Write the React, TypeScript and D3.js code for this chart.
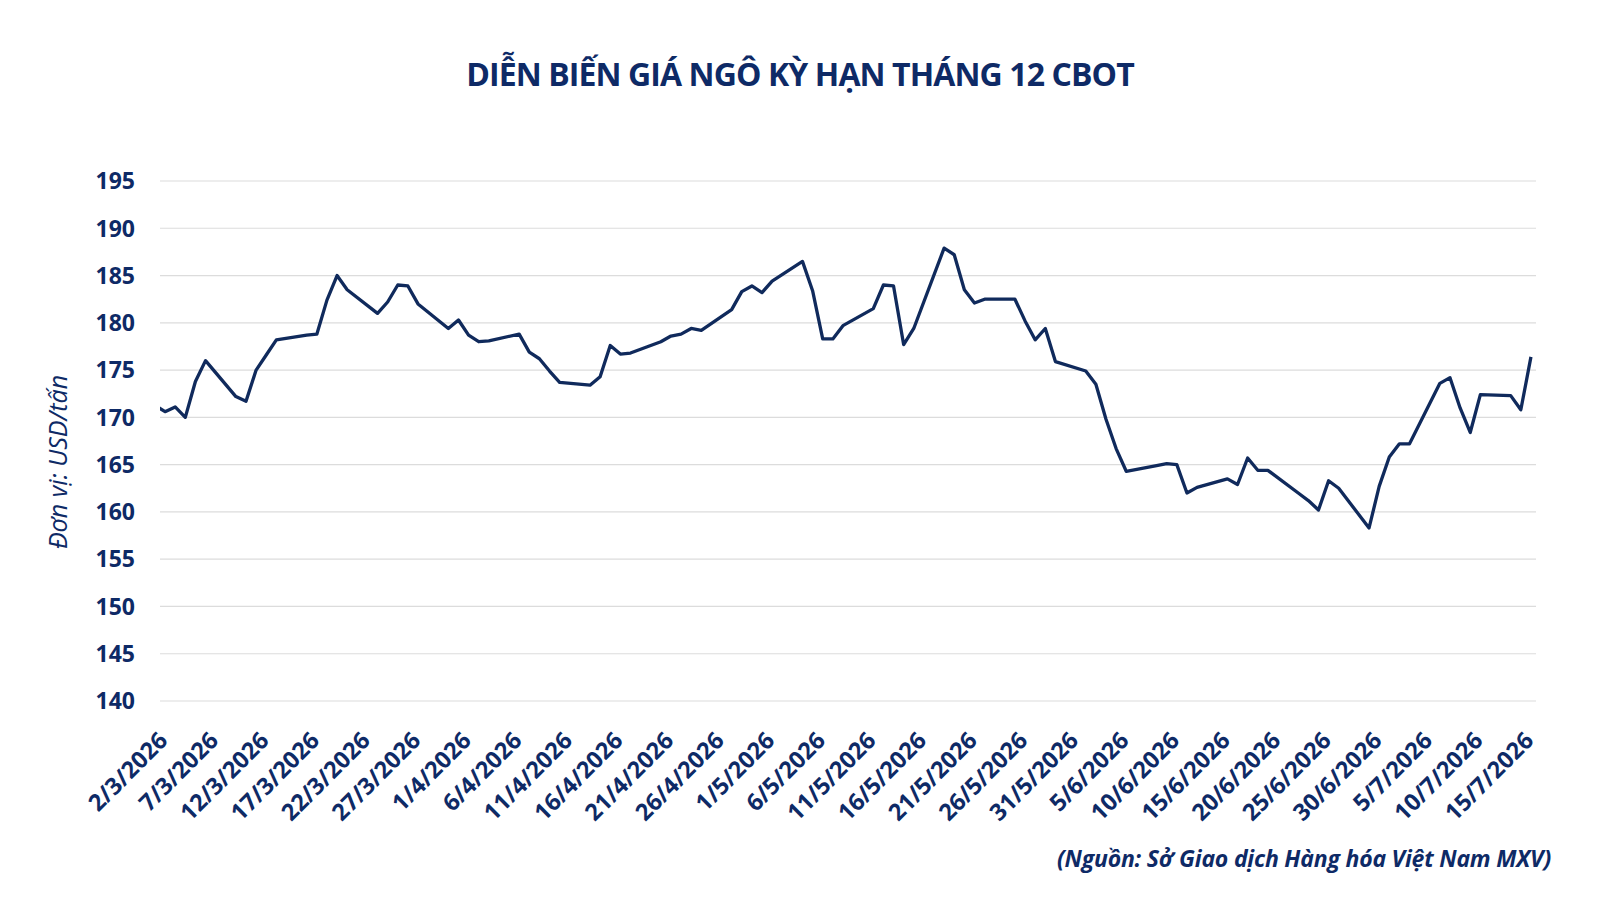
import { useEffect, useRef } from 'react'
import * as d3 from 'd3'

// trading days (first one sits just left of the axis and is clipped, as in the original)
const DATES = [
  '2026-02-27',
  '2026-03-02', '2026-03-03', '2026-03-04', '2026-03-05', '2026-03-06',
  '2026-03-09', '2026-03-10', '2026-03-11', '2026-03-12', '2026-03-13',
  '2026-03-16', '2026-03-17', '2026-03-18', '2026-03-19', '2026-03-20',
  '2026-03-23', '2026-03-24', '2026-03-25', '2026-03-26', '2026-03-27',
  '2026-03-30', '2026-03-31', '2026-04-01', '2026-04-02', '2026-04-03',
  '2026-04-06', '2026-04-07', '2026-04-08', '2026-04-09', '2026-04-10',
  '2026-04-13', '2026-04-14', '2026-04-15', '2026-04-16', '2026-04-17',
  '2026-04-20', '2026-04-21', '2026-04-22', '2026-04-23', '2026-04-24',
  '2026-04-27', '2026-04-28', '2026-04-29', '2026-04-30', '2026-05-01',
  '2026-05-04', '2026-05-05', '2026-05-06', '2026-05-07', '2026-05-08',
  '2026-05-11', '2026-05-12', '2026-05-13', '2026-05-14', '2026-05-15',
  '2026-05-18', '2026-05-19', '2026-05-20', '2026-05-21', '2026-05-22',
  '2026-05-25', '2026-05-26', '2026-05-27', '2026-05-28', '2026-05-29',
  '2026-06-01', '2026-06-02', '2026-06-03', '2026-06-04', '2026-06-05',
  '2026-06-08', '2026-06-09', '2026-06-10', '2026-06-11', '2026-06-12',
  '2026-06-15', '2026-06-16', '2026-06-17', '2026-06-18', '2026-06-19',
  '2026-06-22', '2026-06-23', '2026-06-24', '2026-06-25', '2026-06-26',
  '2026-06-29', '2026-06-30', '2026-07-01', '2026-07-02', '2026-07-03',
  '2026-07-06', '2026-07-07', '2026-07-08', '2026-07-09', '2026-07-10',
  '2026-07-13', '2026-07-14', '2026-07-15',
]

// USD/tấn
const PRICES = [
  172.6,
  170.6, 171.1, 170.0, 173.8, 176.0,
  172.2, 171.7, 175.0, 176.6, 178.2,
  178.7, 178.8, 182.4, 185.0, 183.5,
  181.0, 182.2, 184.0, 183.9, 182.0,
  179.4, 180.3, 178.7, 178.0, 178.1,
  178.8, 176.9, 176.2, 174.9, 173.7,
  173.4, 174.3, 177.6, 176.7, 176.8,
  178.0, 178.6, 178.8, 179.4, 179.2,
  181.4, 183.3, 183.9, 183.2, 184.4,
  186.5, 183.4, 178.3, 178.3, 179.7,
  181.5, 184.0, 183.9, 177.7, 179.4,
  187.9, 187.2, 183.5, 182.1, 182.5,
  182.5, 180.2, 178.2, 179.4, 175.9,
  174.9, 173.5, 169.8, 166.7, 164.3,
  164.9, 165.1, 165.0, 162.0, 162.6,
  163.5, 162.9, 165.7, 164.4, 164.4,
  162.0, 161.2, 160.2, 163.3, 162.5,
  158.3, 162.7, 165.8, 167.2, 167.2,
  173.6, 174.2, 171.0, 168.4, 172.4,
  172.3, 170.8, 176.4,
]

const Y_TICKS = [140, 145, 150, 155, 160, 165, 170, 175, 180, 185, 190, 195]
const AXIS_START = '2026-03-02'
const AXIS_END = '2026-07-15'

const TITLE = 'DIỄN BIẾN GIÁ NGÔ KỲ HẠN THÁNG 12 CBOT'
const Y_TITLE = 'Đơn vị: USD/tấn'
const SOURCE = '(Nguồn: Sở Giao dịch Hàng hóa Việt Nam MXV)'

const NAVY = '#0e2a66'
const LINE = '#102a5c'
const FONT = "'Open Sans', 'Noto Sans', sans-serif"

export default function App() {
  const svgRef = useRef<SVGSVGElement>(null)
  const width = 1600
  const height = 900

  useEffect(() => {
    if (!svgRef.current) return
    const svg = d3.select(svgRef.current)
    svg.selectAll('*').remove()

    const left = 160, right = 1536, top = 181, bottom = 701
    const parse = d3.utcParse('%Y-%m-%d')
    const data = DATES.map((d, i) => ({ date: parse(d) as Date, value: PRICES[i] }))

    const start = parse(AXIS_START) as Date
    const end = parse(AXIS_END) as Date
    // half a day of padding on each side (points sit in the middle of their day)
    const x = d3.scaleUtc()
      .domain([d3.utcHour.offset(start, -12), d3.utcHour.offset(end, 12)])
      .range([left, right])
    const y = d3.scaleLinear().domain([140, 195]).range([bottom, top])

    svg.append('rect').attr('width', width).attr('height', height).attr('fill', '#fff')

    // title
    svg.append('text')
      .attr('x', 800).attr('y', 86)
      .attr('text-anchor', 'middle')
      .attr('font-family', FONT).attr('font-weight', 700).attr('font-size', 32)
      .attr('letter-spacing', -0.9)
      .attr('fill', NAVY)
      .text(TITLE)

    // gridlines
    svg.append('g')
      .selectAll('line')
      .data(Y_TICKS)
      .join('line')
      .attr('x1', left).attr('x2', right)
      .attr('y1', d => y(d)).attr('y2', d => y(d))
      .attr('stroke', '#dcdcdc').attr('stroke-width', 1.2)

    // y tick labels
    svg.append('g')
      .selectAll('text')
      .data(Y_TICKS)
      .join('text')
      .attr('x', 135).attr('y', d => y(d))
      .attr('dy', '0.36em')
      .attr('text-anchor', 'end')
      .attr('font-family', FONT).attr('font-weight', 700).attr('font-size', 23)
      .attr('fill', NAVY)
      .text(d => d)

    // y title
    svg.append('text')
      .attr('transform', 'translate(67, 462) rotate(-90)')
      .attr('text-anchor', 'middle')
      .attr('font-family', FONT).attr('font-style', 'italic').attr('font-size', 25)
      .attr('fill', NAVY)
      .text(Y_TITLE)

    // x tick labels, every 5 days
    const fmt = d3.utcFormat('%-d/%-m/%Y')
    const xTicks = d3.utcDay.range(start, d3.utcDay.offset(end, 1), 5)
    svg.append('g')
      .selectAll('text')
      .data(xTicks)
      .join('text')
      .attr('transform', d => `translate(${x(d) + 4}, 742) rotate(-45)`)
      .attr('text-anchor', 'end')
      .attr('font-family', FONT).attr('font-weight', 700).attr('font-size', 23.5)
      .attr('fill', NAVY)
      .text(d => fmt(d))

    // price line
    svg.append('clipPath').attr('id', 'plot-clip')
      .append('rect')
      .attr('x', left).attr('y', 0)
      .attr('width', right - left).attr('height', height)

    const line = d3.line<{ date: Date; value: number }>()
      .x(d => x(d.date))
      .y(d => y(d.value))

    svg.append('path')
      .datum(data)
      .attr('clip-path', 'url(#plot-clip)')
      .attr('d', line)
      .attr('fill', 'none')
      .attr('stroke', LINE)
      .attr('stroke-width', 3.3)
      .attr('stroke-linejoin', 'round')

    // source note
    svg.append('text')
      .attr('x', 1551).attr('y', 867)
      .attr('text-anchor', 'end')
      .attr('font-family', FONT).attr('font-weight', 700).attr('font-style', 'italic')
      .attr('font-size', 23)
      .attr('letter-spacing', -0.2)
      .attr('fill', NAVY)
      .text(SOURCE)
  }, [])

  return (
    <div style={{ position: 'absolute', left: 0, top: 0 }}>
      <svg ref={svgRef} width={width} height={height} style={{ display: 'block' }} />
    </div>
  )
}
